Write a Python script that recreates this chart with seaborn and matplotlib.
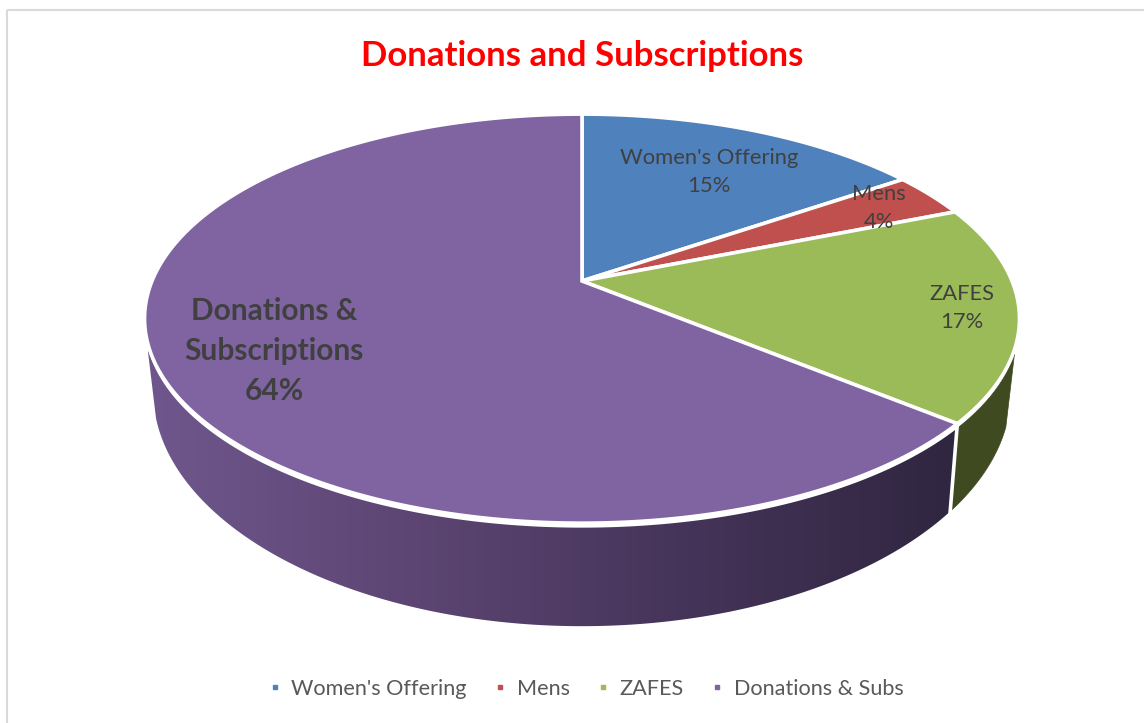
import numpy as np
import matplotlib
matplotlib.use("Agg")
import matplotlib.pyplot as plt
from matplotlib.lines import Line2D
from matplotlib.patches import Polygon, Rectangle
import seaborn as sns

labels = ["Women's Offering", "Mens", "ZAFES", "Donations & Subscriptions"]
legend_labels = ["Women's Offering", "Mens", "ZAFES", "Donations & Subs"]
values = [15.4, 3.5, 17.1, 64]
colors = ["#4f81bd", "#c0504d", "#9bbb59", "#8064a2"]
title = "Donations and Subscriptions"

sns.set_theme(style="white")
plt.rcParams["font.family"] = ["Lato", "DejaVu Sans"]

# pie geometry in pixels, tilted with a simple perspective
cx, cy = 582, 281
A, B, k = 430, 197.6, 0.184
depth = 68.6
shrink = 0.98
rim_gap = 4.5


def project(theta):
    t = np.radians(theta)
    u, v = np.sin(t), np.cos(t)
    w = 1 + k * v
    return cx + A * u / w, cy - B * v / w


def project_low(theta):
    t = np.radians(theta)
    x, y = project(theta)
    w = 1 + k * np.cos(t)
    return cx + (x - cx) * shrink, y + depth / w ** 2


fig = plt.figure(figsize=(11.44, 7.23), dpi=100)
ax = fig.add_axes([0, 0, 1, 1])
ax.set_xlim(0, 1144)
ax.set_ylim(723, 0)
ax.axis("off")

ax.add_patch(Rectangle((7, 9.5), 1300, 900, fill=False, ec="#d9d9d9", lw=1.5))

edges = np.cumsum([0] + values) * 3.6
side_start, side_end = 109, 253

# side wall, only the part facing us, gradient runs left to right
shades = sns.blend_palette(["#2f2640", "#453459", "#5c4572", "#6f578d"], as_cmap=True)
purple_angles = np.arange(edges[3], side_end + 0.25, 0.5)
purple_side = [(x, y + rim_gap) for x, y in map(project, purple_angles)]
purple_side += [project_low(a) for a in purple_angles[::-1]]
clip = Polygon(purple_side, fc="none", ec="none", transform=ax.transData)
ax.add_patch(clip)
grad = np.linspace(0, 1, 256).reshape(1, -1)
im = ax.imshow(grad, cmap=shades, extent=(958, 148, 640, 340), aspect="auto", zorder=1)
im.set_clip_path(clip)
ax.set_xlim(0, 1144)
ax.set_ylim(723, 0)

green_angles = np.arange(side_start, edges[3] + 0.25, 0.5)
green_side = [(x, y + rim_gap) for x, y in map(project, green_angles)]
green_side += [project_low(a) for a in green_angles[::-1]]
ax.add_patch(Polygon(green_side, fc="#3f4a21", ec="#3f4a21", lw=0.5, zorder=1))

x0, y0 = project(edges[3])
x1, y1 = project_low(edges[3])
ax.plot([x0, x1], [y0, y1 + 4], color="white", lw=2.6, solid_capstyle="butt", zorder=2)

# top faces
for i, color in enumerate(colors):
    angles = np.linspace(edges[i], edges[i + 1], 200)
    pts = [(cx, cy)] + [project(a) for a in angles]
    ax.add_patch(Polygon(pts, fc=color, ec="white", lw=2.6, joinstyle="miter", zorder=3))

ax.text(582, 56, title, color="#ff0000", fontsize=25, fontweight="bold", ha="center", va="center")

text_color = "#404040"
spacing = 1.52
ax.text(709, 172, f"{labels[0]}\n{values[0]:.0f}%", color=text_color, fontsize=15.8, ha="center", va="center", linespacing=spacing)
ax.text(879, 208, f"{labels[1]}\n{values[1]:.0f}%", color=text_color, fontsize=15.8, ha="center", va="center", linespacing=spacing)
ax.text(962, 308, f"{labels[2]}\n{values[2]:.0f}%", color=text_color, fontsize=15.8, ha="center", va="center", linespacing=spacing)
ax.text(274, 351, "Donations &\nSubscriptions\n" + f"{values[3]:.0f}%", color=text_color, fontsize=21.5,
        fontweight="bold", ha="center", va="center", linespacing=1.5)

handles = [Line2D([], [], ls="", marker="s", ms=2.8, color=c) for c in colors]
ax.legend(handles, legend_labels, ncol=4, frameon=False, loc="center", bbox_to_anchor=(586 / 1144, 1 - 689 / 723),
          fontsize=15.6, labelcolor="#595959", handlelength=0.6, handletextpad=0.45, columnspacing=1.25)

fig.savefig("out.png", dpi=100)
